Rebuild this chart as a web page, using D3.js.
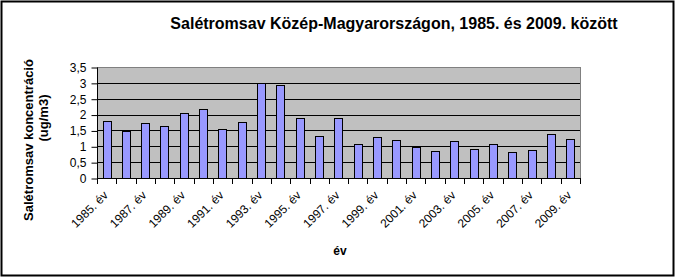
<!DOCTYPE html>
<html>
<head>
<meta charset="utf-8">
<script src="https://cdn.jsdelivr.net/npm/d3@7"></script>
<style>
  body { margin: 0; background: #fff; }
  text { font-family: Arial, "Liberation Sans", sans-serif; }
</style>
</head>
<body>
<script>
// data
var years = [1985, 1986, 1987, 1988, 1989, 1990, 1991, 1992, 1993, 1994, 1995, 1996, 1997,
  1998, 1999, 2000, 2001, 2002, 2003, 2004, 2005, 2006, 2007, 2008, 2009];
var values = [1.81, 1.48, 1.75, 1.65, 2.06, 2.16, 1.56, 1.78, 3.0, 2.94, 1.9, 1.34, 1.9,
  1.08, 1.3, 1.21, 0.97, 0.86, 1.18, 0.93, 1.08, 0.83, 0.89, 1.4, 1.24];
var yTicks = [0, 0.5, 1, 1.5, 2, 2.5, 3, 3.5];

const w = 677;
const h = 278;
const pLeft = 97, pRight = 580, pTop = 67, pBottom = 178;

var svg = d3.select("body").append("svg")
  .attr("width", w)
  .attr("height", h);

// outer frame
svg.append("rect")
  .attr("x", 1.5).attr("y", 1.5)
  .attr("width", 672).attr("height", 274)
  .attr("fill", "#fff")
  .attr("stroke", "#000")
  .attr("stroke-width", 2);

var x = d3.scaleBand()
  .domain(years)
  .range([pLeft, pRight]);

var y = d3.scaleLinear()
  .domain([0, 3.5])
  .range([pBottom, pTop]);

// plot area
svg.append("rect")
  .attr("x", pLeft + 0.5).attr("y", pTop + 0.5)
  .attr("width", pRight - pLeft).attr("height", pBottom - pTop)
  .attr("fill", "#c0c0c0")
  .attr("stroke", "#808080");

// gridlines
svg.append("g").selectAll("line")
  .data(yTicks.slice(1, -1))
  .enter().append("line")
  .attr("x1", pLeft).attr("x2", pRight)
  .attr("y1", function (d) { return Math.round(y(d)) + 0.5; })
  .attr("y2", function (d) { return Math.round(y(d)) + 0.5; })
  .attr("stroke", "#000");

// bars
var bw = x.bandwidth() * 0.43;
svg.append("g").selectAll("rect")
  .data(values)
  .enter().append("rect")
  .attr("x", function (d, i) { return Math.round(x(years[i]) + (x.bandwidth() - bw) / 2) + 0.5; })
  .attr("y", function (d) { return Math.round(y(d)) + 0.5; })
  .attr("width", Math.round(bw))
  .attr("height", function (d) { return Math.round(y(0)) - Math.round(y(d)); })
  .attr("fill", "#9999ff")
  .attr("stroke", "#000");

// y axis
var yAxis = svg.append("g")
  .attr("transform", "translate(" + (pLeft + 0.5) + ",0.5)")
  .call(d3.axisLeft(y)
    .tickValues(yTicks)
    .tickSize(6)
    .tickPadding(5)
    .tickFormat(function (d) { return String(d).replace(".", ","); }));
yAxis.select(".domain").attr("stroke", "#000").attr("d", "M0," + pTop + "V" + pBottom);
yAxis.selectAll(".tick line").attr("stroke", "#000");
yAxis.selectAll("text")
  .attr("font-size", 12)
  .attr("fill", "#000");

// x axis line and ticks at category boundaries
var bounds = years.map(function (d) { return x(d); }).concat([pRight]);
svg.append("line")
  .attr("x1", pLeft).attr("x2", pRight)
  .attr("y1", pBottom + 0.5).attr("y2", pBottom + 0.5)
  .attr("stroke", "#000");
svg.append("g").selectAll("line")
  .data(bounds)
  .enter().append("line")
  .attr("x1", function (d) { return Math.round(d) + 0.5; })
  .attr("x2", function (d) { return Math.round(d) + 0.5; })
  .attr("y1", pBottom).attr("y2", pBottom + 6)
  .attr("stroke", "#000");

// x labels, every second year
svg.append("g").selectAll("text")
  .data(years.filter(function (d, i) { return i % 2 === 0; }))
  .enter().append("text")
  .attr("transform", function (d) {
    return "translate(" + (x(d) + x.bandwidth() / 2 + 2) + "," + (pBottom + 18) + ") rotate(-45)";
  })
  .attr("text-anchor", "end")
  .attr("font-size", 12)
  .text(function (d) { return d + ". év"; });

// titles
svg.append("text")
  .attr("x", 394).attr("y", 29)
  .attr("text-anchor", "middle")
  .attr("font-size", 16)
  .attr("font-weight", "bold")
  .text("Salétromsav Közép-Magyarországon, 1985. és 2009. között");

svg.append("text")
  .attr("x", 340).attr("y", 255)
  .attr("text-anchor", "middle")
  .attr("font-size", 12)
  .attr("font-weight", "bold")
  .text("év");

svg.append("text")
  .attr("transform", "translate(33,140) rotate(-90)")
  .attr("text-anchor", "middle")
  .attr("font-size", 13)
  .attr("font-weight", "bold")
  .text("Salétromsav koncentráció");
svg.append("text")
  .attr("transform", "translate(48,118) rotate(-90)")
  .attr("text-anchor", "middle")
  .attr("font-size", 13)
  .attr("font-weight", "bold")
  .text("(ug/m3)");
</script>
</body>
</html>
